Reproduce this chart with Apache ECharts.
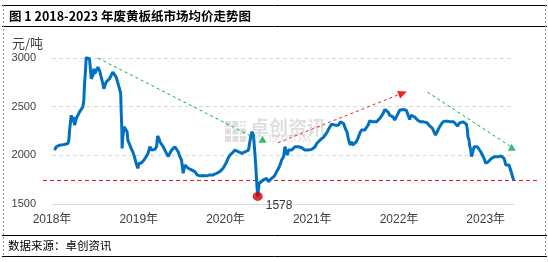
<!DOCTYPE html>
<html><head><meta charset="utf-8">
<script src="https://cdn.jsdelivr.net/npm/echarts@6/dist/echarts.min.js"></script>
<style>html,body{margin:0;padding:0;background:#fff}#c{width:548px;height:262px}</style>
</head><body><div id="c"></div>
<script>
// ---------- data ----------
const dates = [
'2018-01-12','2018-01-19','2018-01-26','2018-02-02','2018-02-09','2018-02-23','2018-03-09','2018-03-13','2018-03-16','2018-03-23',
'2018-03-27','2018-04-02','2018-04-06','2018-04-13','2018-04-20','2018-04-27','2018-05-04','2018-05-11','2018-05-15','2018-05-18',
'2018-05-22','2018-05-25','2018-06-01','2018-06-08','2018-06-12','2018-06-15','2018-06-22','2018-06-26','2018-06-30','2018-07-06',
'2018-07-13','2018-07-20','2018-07-27','2018-08-03','2018-08-07','2018-08-13','2018-08-17','2018-08-24','2018-08-31','2018-09-07',
'2018-09-14','2018-09-21','2018-09-28','2018-10-02','2018-10-08','2018-10-12','2018-10-17','2018-10-19','2018-10-22','2018-10-23',
'2018-10-26','2018-10-31','2018-11-07','2018-11-13','2018-11-16','2018-11-23','2018-11-30','2018-12-07','2018-12-14','2018-12-21',
'2018-12-28','2019-01-02','2019-01-11','2019-01-23','2019-02-01','2019-02-09','2019-02-17','2019-02-24','2019-03-03','2019-03-10',
'2019-03-17','2019-03-21','2019-03-27','2019-03-31','2019-04-07','2019-04-14','2019-04-21','2019-04-28','2019-05-05','2019-05-12',
'2019-05-19','2019-05-26','2019-06-02','2019-06-09','2019-06-16','2019-06-23','2019-06-30','2019-07-07','2019-07-14','2019-07-21',
'2019-07-28','2019-08-04','2019-08-11','2019-08-18','2019-08-25','2019-09-04','2019-09-15','2019-09-29','2019-10-14','2019-10-27',
'2019-11-10','2019-11-25','2019-12-08','2019-12-22','2020-01-03','2020-01-12','2020-01-20','2020-01-31','2020-02-10','2020-02-24',
'2020-03-02','2020-03-10','2020-03-24','2020-04-07','2020-04-14','2020-04-21','2020-04-28','2020-05-03','2020-05-08','2020-05-12',
'2020-05-16','2020-05-22','2020-05-30','2020-06-09','2020-06-16','2020-06-23','2020-06-30','2020-07-07','2020-07-14','2020-07-26',
'2020-08-04','2020-08-12','2020-08-18','2020-08-25','2020-09-02','2020-09-08','2020-09-12','2020-09-18','2020-09-23','2020-09-29',
'2020-10-06','2020-10-14','2020-10-20','2020-10-28','2020-11-04','2020-11-10','2020-11-18','2020-11-25','2020-12-01','2020-12-09',
'2020-12-16','2020-12-22','2020-12-30','2021-01-06','2021-01-13','2021-01-20','2021-01-27','2021-02-03','2021-02-10','2021-02-17',
'2021-02-24','2021-03-03','2021-03-10','2021-03-17','2021-03-24','2021-04-01','2021-04-08','2021-04-15','2021-04-22','2021-04-29',
'2021-05-06','2021-05-13','2021-05-20','2021-05-27','2021-06-03','2021-06-10','2021-06-15','2021-06-20','2021-06-27','2021-07-06',
'2021-07-12','2021-07-20','2021-07-27','2021-08-03','2021-08-10','2021-08-17','2021-08-24','2021-08-31','2021-09-07','2021-09-14',
'2021-09-21','2021-09-28','2021-10-05','2021-10-12','2021-10-19','2021-10-26','2021-11-02','2021-11-09','2021-11-16','2021-11-23',
'2021-11-30','2021-12-07','2021-12-14','2021-12-21','2021-12-28','2022-01-04','2022-01-11','2022-01-18','2022-01-25','2022-02-01',
'2022-02-08','2022-02-15','2022-02-21','2022-02-28','2022-03-07','2022-03-14','2022-03-21','2022-04-01','2022-04-08','2022-04-15',
'2022-04-23','2022-04-30','2022-05-07','2022-05-14','2022-05-22','2022-05-28','2022-06-04','2022-06-09','2022-06-14','2022-06-21',
'2022-06-28','2022-07-05','2022-07-14','2022-07-24','2022-07-30','2022-08-07','2022-08-14','2022-08-20','2022-08-28','2022-09-04',
'2022-09-08','2022-09-13','2022-09-21','2022-09-27','2022-10-04','2022-10-12','2022-10-16','2022-10-18','2022-10-23','2022-10-25',
'2022-10-30','2022-11-02','2022-11-06','2022-11-13','2022-11-20','2022-11-27','2022-12-04','2022-12-11','2022-12-18','2022-12-25',
'2023-01-01','2023-01-05','2023-01-12','2023-01-18','2023-01-25','2023-02-01','2023-02-08','2023-02-15','2023-02-22','2023-03-01',
'2023-03-08','2023-03-15','2023-03-19','2023-03-23','2023-03-26','2023-04-02','2023-04-09','2023-04-16','2023-04-20','2023-04-26',
'2023-04-30'];
const prices = [
2054,2088,2071,2105,2095,2112,2122,2156,2259,2412,
2344,2395,2310,2378,2412,2446,2463,2497,2566,2736,
2872,3009,3026,2992,2872,2787,2821,2889,2838,2855,
2906,2872,2804,2736,2685,2702,2753,2770,2787,2821,
2855,2838,2804,2770,2719,2685,2634,2463,2259,2071,
2191,2293,2276,2242,2157,2174,2071,2037,1986,1918,
1867,1918,1918,1952,1986,2020,2088,2054,2071,2061,
2088,2197,2174,2140,2157,2088,2054,2037,1986,2020,
2054,2071,2088,2071,2037,1986,1952,1816,1901,1884,
1867,1867,1850,1843,1833,1799,1789,1792,1789,1799,
1799,1816,1833,1867,1918,1969,2003,2027,2054,2037,
2020,2020,2037,2054,2157,2242,2208,2054,1884,1713,
1578,1713,1730,1747,1730,1764,1730,1747,1764,1789,
1833,1867,1901,1952,1986,2088,2054,2003,2054,2071,
2054,2071,2088,2071,2088,2071,2078,2061,2054,2037,
2054,2047,2061,2071,2088,2122,2140,2157,2174,2184,
2200,2230,2265,2295,2320,2327,2310,2320,2310,2344,
2354,2327,2276,2242,2157,2105,2140,2105,2122,2140,
2174,2225,2259,2266,2259,2286,2310,2354,2361,2344,
2327,2344,2361,2378,2395,2429,2470,2463,2446,2412,
2429,2395,2361,2395,2429,2463,2480,2470,2480,2463,
2446,2368,2412,2423,2395,2390,2361,2344,2361,2344,
2327,2334,2310,2293,2276,2242,2208,2225,2259,2293,
2320,2344,2351,2351,2354,2344,2354,2344,2334,2300,
2310,2334,2327,2344,2334,2320,2259,2191,2157,2105,
2054,1986,2020,2088,2105,2088,2071,2037,2003,1969,
1918,1901,1935,1952,1969,1979,1986,1979,1986,1986,
1993,1986,1969,1935,1901,1901,1901,1884,1816,1764,
1747];
const yearLabels = ['2018年','2019年','2020年','2021年','2022年','2023年'];
const axisEndDate = '2023-04-30';
const lowDate = '2020-05-16';
const lowValue = 1578;
const refLevel = 1750;
// trend annotations: [decimal year, price]
const greenTrend1 = [[2018.53, 2999], [2020.339, 2177]];
const greenHead1 = [2020.427, 2164];
const redTrend = [[2020.604, 2129], [2022.044, 2640]];
const greenTrend2 = [[2022.328, 2650], [2023.280, 2095]];
const greenHead2 = [2023.300, 2082];
const titleText = '图 1 2018-2023 年废黄板纸市场均价走势图';
const sourceText = '数据来源：卓创资讯';

// ---------- helpers ----------
function toYear(s) {
  const p = s.split('-').map(Number);
  const a = Date.UTC(p[0], 0, 1), b = Date.UTC(p[0] + 1, 0, 1);
  return p[0] + (Date.UTC(p[0], p[1] - 1, p[2]) - a) / (b - a);
}
const FONT = '"Liberation Sans","Noto Sans CJK SC",sans-serif';
const CJK = '"Noto Sans CJK SC","Liberation Sans",sans-serif';
const GREEN = '#00B050', RED = '#E8262A';

const chart = echarts.init(document.getElementById('c'), null, {renderer: 'canvas'});
const lineData = dates.map((d, i) => [toYear(d), prices[i]]);

chart.setOption({
  animation: false,
  backgroundColor: '#fff',
  grid: {left: 52, right: 34, top: 58, bottom: 58},
  xAxis: {
    type: 'value', min: 2018, max: toYear(axisEndDate), interval: 1,
    axisLine: {show: true, lineStyle: {color: '#d9d9d9', width: 1}},
    axisTick: {show: false}, splitLine: {show: false},
    axisLabel: {
      color: '#404040', fontSize: 12, fontFamily: FONT, margin: 10, showMaxLabel: false,
      formatter: v => Math.abs(v - Math.round(v)) < 1e-6 ? (yearLabels[Math.round(v) - 2018] || '') : ''
    }
  },
  yAxis: {
    type: 'value', min: 1500, max: 3000, interval: 500,
    name: '元/吨', nameLocation: 'end', nameGap: 8,
    nameTextStyle: {color: '#404040', fontSize: 13, fontFamily: CJK, align: 'right', verticalAlign: 'bottom', padding: [0, 9, 0, 0]},
    axisLine: {show: false}, axisTick: {show: false},
    axisLabel: {color: '#404040', fontSize: 11, fontFamily: FONT, margin: 16, formatter: v => String(v)},
    splitLine: {show: true, lineStyle: {color: '#d9d9d9', width: 1, type: [4, 3]}}
  },
  series: [
    {
      type: 'line', data: lineData, showSymbol: false, z: 3,
      lineStyle: {color: '#0070C0', width: 3}, itemStyle: {color: '#0070C0'},
      markLine: {
        silent: true, symbol: ['none', 'none'], label: {show: false}, animation: false,
        data: [
          [{coord: greenTrend1[0], lineStyle: {color: GREEN, width: 1, type: [3, 3]}}, {coord: greenTrend1[1]}],
          [{coord: redTrend[0], symbol: 'none', lineStyle: {color: RED, width: 1, type: [3, 3]}}, {coord: redTrend[1], symbol: 'triangle', symbolSize: [8, 9]}],
          [{coord: greenTrend2[0], lineStyle: {color: GREEN, width: 1, type: [3, 3]}}, {coord: greenTrend2[1]}]
        ]
      }
    },
    {
      type: 'scatter', data: [greenHead1, greenHead2], symbol: 'triangle', symbolSize: [8, 7],
      itemStyle: {color: GREEN}, z: 4, silent: true
    },
    {
      type: 'scatter', data: [[toYear(lowDate), lowValue]], symbol: 'circle', symbolSize: [10, 9],
      itemStyle: {color: '#D00000'}, z: 5, silent: true,
      label: {show: true, position: 'right', distance: 3, offset: [0, 9], formatter: p => String(p.value[1]),
        color: '#000', fontSize: 12, fontFamily: FONT}
    }
  ]
});

const yRef = Math.round(chart.convertToPixel({yAxisIndex: 0}, refLevel)) + 0.5;
const wmFill = 'rgba(150,150,150,0.3)';
const logo = [];
for (let r = 0; r < 3; r++) for (let c = 0; c < 3; c++) {
  if (r === 0 && c === 2) continue;
  logo.push({type: 'rect', shape: {x: 225 + c * 7.5, y: 121 + r * 7.5, width: 6, height: 6}, style: {fill: wmFill}, silent: true, z: 0});
}
for (let k = 0; k < 4; k++) logo.push({type: 'rect', shape: {x: 240 + (k % 2) * 3.5, y: 121 + Math.floor(k / 2) * 3.5, width: 2, height: 2}, style: {fill: wmFill}, silent: true, z: 0});

chart.setOption({
  graphic: [
    ...logo,
    {type: 'text', x: 250, y: 128, silent: true, z: 0, style: {text: '卓创资讯', font: 'bold 19px ' + CJK, fill: wmFill, verticalAlign: 'middle'}},
    {type: 'text', x: 255, y: 139.5, silent: true, z: 0, style: {text: 'SCI99.COM', font: '11px "Liberation Serif",serif', fill: wmFill, verticalAlign: 'middle'}},
    {type: 'line', silent: true, z: 2, shape: {x1: 43, y1: yRef, x2: 537, y2: yRef}, style: {stroke: '#D92020', lineWidth: 1, lineDash: [4, 3]}},
    {type: 'line', silent: true, shape: {x1: 2, y1: 5.5, x2: 547, y2: 5.5}, style: {stroke: '#000', lineWidth: 1}},
    {type: 'line', silent: true, shape: {x1: 2, y1: 26.5, x2: 547, y2: 26.5}, style: {stroke: '#000', lineWidth: 1}},
    {type: 'line', silent: true, shape: {x1: 2, y1: 235.5, x2: 547, y2: 235.5}, style: {stroke: '#000', lineWidth: 1}},
    {type: 'line', silent: true, shape: {x1: 2, y1: 256.5, x2: 547, y2: 256.5}, style: {stroke: '#000', lineWidth: 1}},
    {type: 'line', silent: true, shape: {x1: 3.5, y1: 5, x2: 3.5, y2: 257}, style: {stroke: '#999', lineWidth: 1, lineDash: [2, 2]}},
    {type: 'line', silent: true, shape: {x1: 545.5, y1: 5, x2: 545.5, y2: 257}, style: {stroke: '#999', lineWidth: 1, lineDash: [2, 2]}},
    {type: 'text', x: 9, y: 16, silent: true, style: {text: titleText, font: 'bold 12.5px ' + CJK, fill: '#000', verticalAlign: 'middle'}},
    {type: 'text', x: 8, y: 246, silent: true, style: {text: sourceText, font: '11.5px ' + CJK, fill: '#000', verticalAlign: 'middle'}}
  ]
});
</script></body></html>
